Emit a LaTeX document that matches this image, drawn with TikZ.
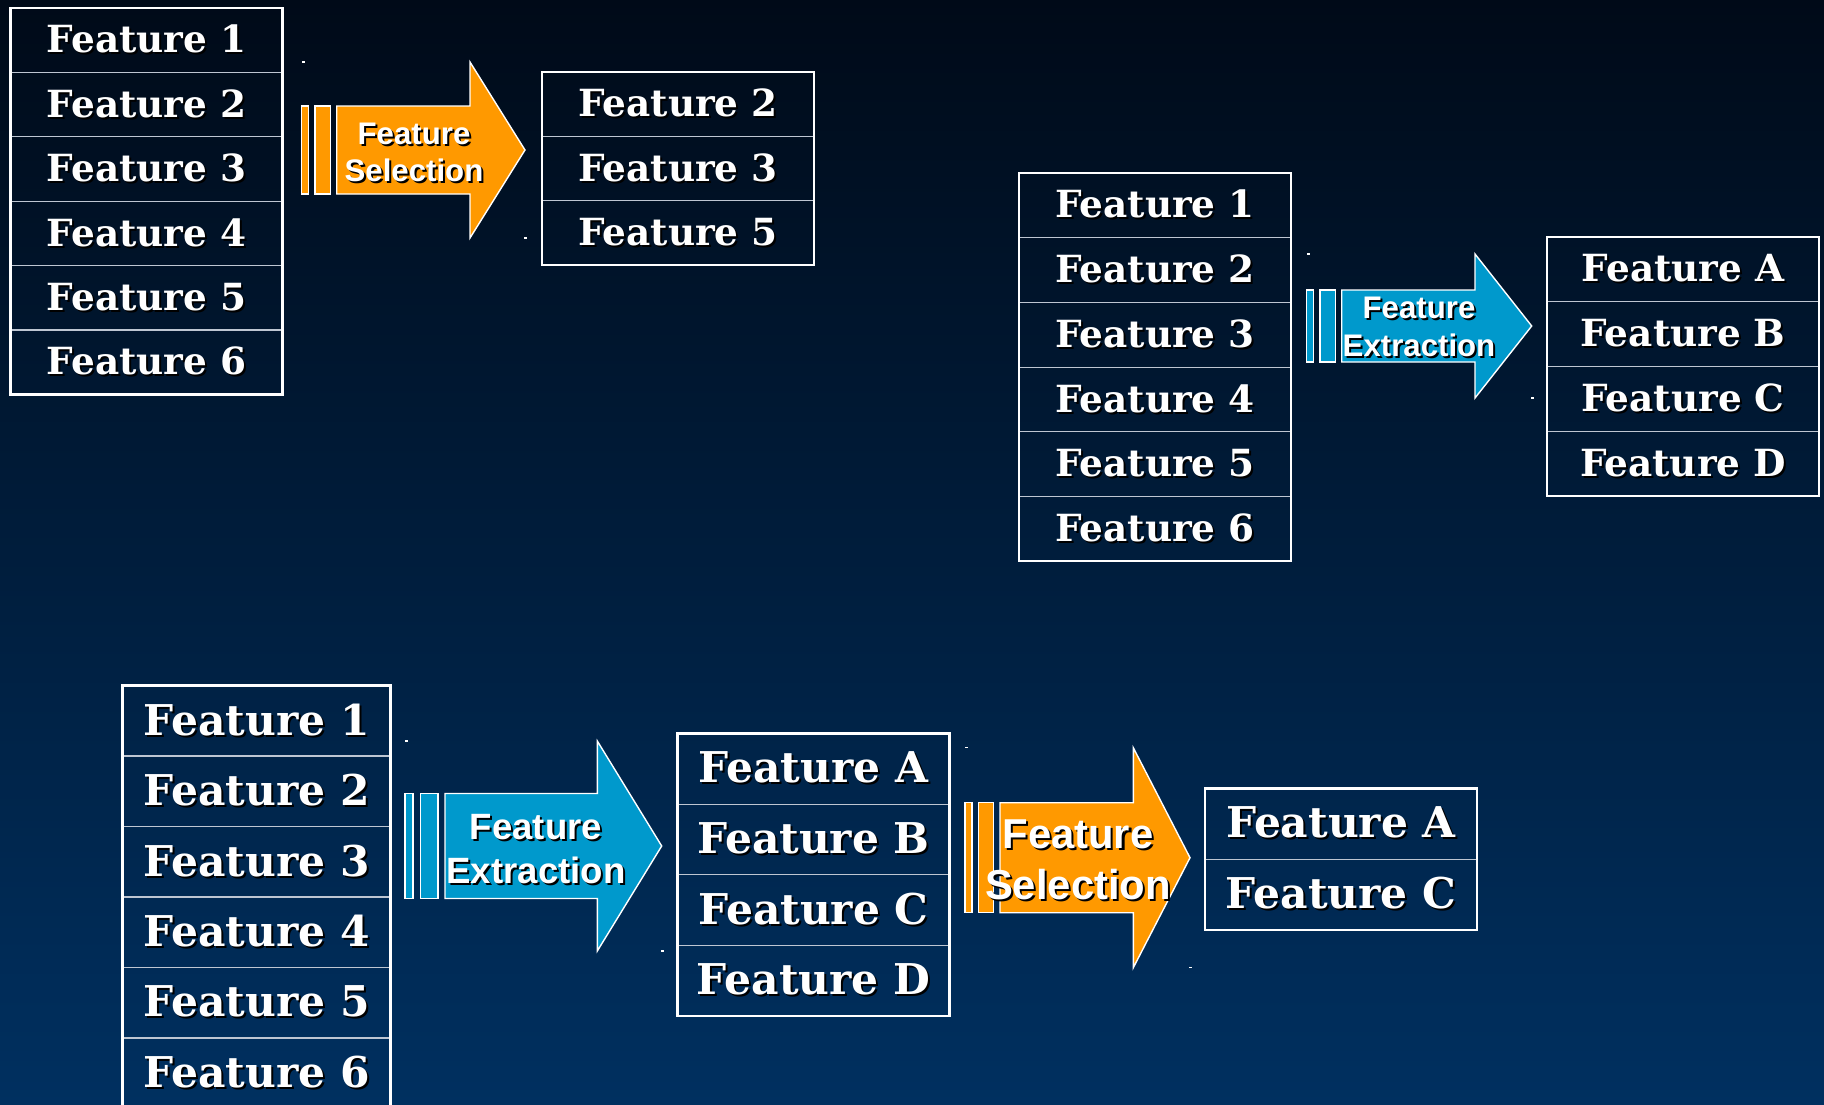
\documentclass[tikz,border=0pt]{standalone}
\usepackage{fontspec}
\usepackage{xcolor}
\usetikzlibrary{positioning}
\newfontfamily\cellfont{DejaVu Serif}
\newfontfamily\arrowfont{Liberation Sans}
\definecolor{bgtop}{RGB}{0,10,24}
\definecolor{bgbottom}{RGB}{0,48,96}
\definecolor{selorange}{RGB}{255,153,0}
\definecolor{extblue}{RGB}{0,153,204}
\definecolor{rowline}{RGB}{190,198,210}
\newcommand{\shadowed}[1]{\rlap{\kern1pt\raisebox{-1pt}{\color{black}#1}}#1}
\newcommand{\featuretable}[8]{ % prefix, left x, top y, width, row height, number of rows, size style, labels
    \foreach \flab [count=\i] in {#8} {
        \node[cell, #7, minimum width={#4*0.5pt}, minimum height={#5*0.5pt}] (#1\i) at ({#2+#4/2}, {#3+(\i-0.5)*#5}) {\shadowed{Feature \flab}};
    }
    \draw[tableframe] (#2,#3) rectangle ({#2+#4}, {#3+#6*#5});
}
\newcommand{\featarrow}[7]{ % bar x, centre y, half body height, head x, tip x, bar unit, colour
    \draw[arrowline, fill=#7] (#1,{#2-#3}) rectangle ({#1+#6},{#2+#3});
    \draw[arrowline, fill=#7] ({#1+1.9*#6},{#2-#3}) rectangle ({#1+4.1*#6},{#2+#3});
    \draw[arrowline, fill=#7] ({#1+5*#6},{#2-#3}) -- (#4,{#2-#3}) -- (#4,{#2-2*#3}) -- (#5,#2)
        -- (#4,{#2+2*#3}) -- (#4,{#2+#3}) -- ({#1+5*#6},{#2+#3}) -- cycle;
    \fill[white] (#1,{#2-2*#3-1}) rectangle ++(3,1.5);
    \fill[white] ({#5-1},{#2+2*#3-1}) rectangle ++(3,1.5);
}

\begin{document}
\begin{tikzpicture}[x=0.5pt, y=-0.5pt,
    cell/.style={draw=rowline, line width=0.6pt, inner sep=0pt, outer sep=0pt, text=white},
    topcell/.style={font=\cellfont\bfseries\fontsize{18.7}{22}\selectfont},
    bigcell/.style={font=\cellfont\bfseries\fontsize{21.2}{25}\selectfont},
    tableframe/.style={draw=white, line width=1.1pt},
    arrowline/.style={draw=white, line width=0.7pt, line join=miter},
    arrowtext/.style={text=white, align=center, inner sep=0pt}]
        \useasboundingbox (0,0) rectangle (1824,1104);
        \clip (0,0) rectangle (1824,1104);
        \shade[top color=bgtop, bottom color=bgbottom] (0,0) rectangle (1824,1104);

        % Feature selection
        \featuretable{s1in}{10.5}{8}{272}{64.4}{6}{topcell}{1,2,3,4,5,6}
        \featarrow{301.7}{150}{44}{470}{525}{7}{selorange}
        \node[arrowtext, font=\arrowfont\bfseries\fontsize{15.6}{18.5}\selectfont] (s1lab) at (414,153) {\shadowed{Feature}\\\shadowed{Selection}};
        \featuretable{s1out}{542}{72}{272}{64.4}{3}{topcell}{2,3,5}

        % Feature extraction
        \featuretable{e1in}{1019}{173}{272}{64.7}{6}{topcell}{1,2,3,4,5,6}
        \featarrow{1306.7}{326}{36}{1475}{1531.7}{7}{extblue}
        \node[arrowtext, font=\arrowfont\bfseries\fontsize{15.6}{19}\selectfont] (e1lab) at (1419,328) {\shadowed{Feature}\\\shadowed{Extraction}};
        \featuretable{e1out}{1547}{237}{272}{64.75}{4}{topcell}{A,B,C,D}

        % Extraction followed by selection
        \featuretable{c2in}{122.5}{685.5}{268}{70.5}{6}{bigcell}{1,2,3,4,5,6}
        \featarrow{405}{846}{52.5}{597.3}{661.7}{8}{extblue}
        \node[arrowtext, font=\arrowfont\bfseries\fontsize{18.3}{22}\selectfont] (e2lab) at (536,850) {\shadowed{Feature}\\\shadowed{Extraction}};
        \featuretable{c2mid}{677.5}{733.5}{272}{70.6}{4}{bigcell}{A,B,C,D}
        \featarrow{965}{857.7}{55}{1133.3}{1190}{7}{selorange}
        \node[arrowtext, font=\arrowfont\bfseries\fontsize{20.9}{25.5}\selectfont] (s2lab) at (1078,861) {\shadowed{Feature}\\\shadowed{Selection}};
        \featuretable{c2out}{1205}{788.5}{272}{70.6}{2}{bigcell}{A,C}
\end{tikzpicture}
\end{document}
